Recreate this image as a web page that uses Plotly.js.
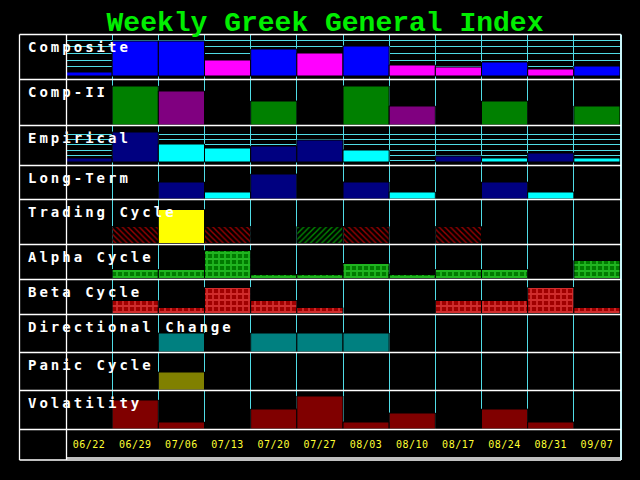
<!DOCTYPE html>
<html><head><meta charset="utf-8">
<script src="https://cdn.plot.ly/plotly-3.0.1.min.js"></script>
<style>
html,body{margin:0;padding:0;background:#000;}
#chart{width:640px;height:480px;}
.annotation-text{letter-spacing:3.0px;}
.xtick text{letter-spacing:0.5px;}
</style></head><body><div id="chart"></div>
<script>
// ---- data ----
const weeks = ['06/22','06/29','07/06','07/13','07/20','07/27','08/03','08/10','08/17','08/24','08/31','09/07'];
const rowLabels = ['Composite','Comp-II','Empirical','Long-Term','Trading Cycle','Alpha Cycle','Beta Cycle','Directional Change','Panic Cycle','Volatility'];

const compositeVal = [4, 35, 35, 16, 27, 23, 30, 11, 9, 14, 7, 10];
const compositeSig = ['B','B','B','M','B','M','B','M','M','B','M','B'];
const comp2Val = [null, 39, 34, null, 24, null, 39, 19, null, 24, null, 19];
const comp2Sig = ['', 'G','P','','G','','G','P','','G','','G'];
const empiricalVal = [4, 30, 18, 14, 16, 22, 12, null, 6, 4, 9, 4];
const empiricalSig = ['N','N','C','C','N','N','C','','N','C','N','C'];
const longTermVal = [null, null, 17, 7, 25, null, 17, 7, null, 17, 7, null];
const longTermSig = ['','','N','C','N','','N','C','','N','C',''];
const tradingVal = [null, 17, 34, 17, null, 17, 17, null, 17, null, null, null];
const tradingSig = ['','R','Y','R','','G','R','','R','','',''];
const alphaVal = [null, 9, 9, 28, 4, 4, 15, 4, 9, 9, null, 18];
const betaVal = [null, 13, 6, 26, 13, 6, null, null, 13, 13, 26, 6];
const directionalVal = [null, null, 19, null, 19, 19, 19, null, null, null, null, null];
const panicVal = [null, null, 18, null, null, null, null, null, null, null, null, null];
const volatilityVal = [null, 29, 7, null, 20, 33, 7, 16, null, 20, 7, null];

// ---- styling ----
const palette = {B:'#0000ff', M:'#ff00ff', G:'#008000', P:'#800080', N:'#000080', C:'#00ffff', R:'#900000', Y:'#ffff00', '':'#000'};
const tradingColor = {R:'#9a0000', Y:'#ffff00', G:'#008a00', '':'#000'};
const tradingShape = {R:'\\', Y:'', G:'/', '':''};
const CYAN = '#50dce6';
const W = 640, H = 480;
const X = p => p / W, Y = p => 1 - p / H;

// row geometry in pixels: [top, bottom], y range, grid lines
const rowGeom = [
  {t:34,  b:79,  r:[-3, 42],  g:[9.7, 16, 22.7, 29.5, 35.5]},
  {t:79,  b:125, r:[0, 46]},
  {t:125, b:165, r:[-3, 37],  g:[1.3, 7, 12, 17.7, 22.7, 27.7]},
  {t:165, b:199, r:[0, 34]},
  {t:199, b:244, r:[-0.5, 44.5]},
  {t:244, b:279, r:[-0.5, 34.5]},
  {t:279, b:314, r:[-0.5, 34.5]},
  {t:314, b:352, r:[0, 38]},
  {t:352, b:390, r:[0, 38]},
  {t:390, b:429, r:[0, 39]},
  {t:429, b:458, r:[0, 1]}
];

function bar(vals, colors, n, extraMarker) {
  return {
    type:'bar', x:weeks, y:vals, xaxis:'x', yaxis: n === 1 ? 'y' : 'y' + n,
    marker: Object.assign({color:colors, line:{color:'#000', width:1}}, extraMarker || {}),
    hoverinfo:'skip', showlegend:false
  };
}

const traces = [
  bar(compositeVal, compositeSig.map(s => palette[s]), 1),
  bar(comp2Val, comp2Sig.map(s => palette[s]), 2),
  bar(empiricalVal, empiricalSig.map(s => palette[s]), 3),
  bar(longTermVal, longTermSig.map(s => palette[s]), 4),
  bar(tradingVal, tradingSig.map(s => tradingColor[s]), 5,
      {pattern:{shape: tradingSig.map(s => tradingShape[s]), fillmode:'replace', size:4, solidity:0.35}}),
  bar(alphaVal, '#007a00', 6, {pattern:{shape:'+', fgcolor:'#40f040', fillmode:'overlay', size:6, solidity:0.5}}),
  bar(betaVal, '#a00000', 7, {pattern:{shape:'+', fgcolor:'#ff5a5a', fillmode:'overlay', size:6, solidity:0.5}}),
  bar(directionalVal, '#008080', 8),
  bar(panicVal, '#808000', 9),
  bar(volatilityVal, '#800000', 10)
];

const layout = {
  width: W, height: H, autosize:false,
  margin:{l:0, r:0, t:0, b:0, pad:0},
  paper_bgcolor:'#000', plot_bgcolor:'#000',
  barmode:'overlay', bargap:0,
  title:{text:'Weekly Greek General Index', x:325/W, xanchor:'center', xref:'paper',
         y:Y(21), yanchor:'middle', yref:'container',
         font:{family:'Liberation Mono', size:28, color:'#00ee00', weight:'bold'}},
  xaxis:{type:'category', categoryorder:'array', categoryarray:weeks,
         domain:[X(66), X(620)], range:[-0.5, 11.5], anchor:'free', position:Y(437),
         tickson:'boundaries', showgrid:true, gridcolor:CYAN, gridwidth:1,
         ticks:'', showline:false, zeroline:false, fixedrange:true,
         tickfont:{family:'DejaVu Sans Mono', size:10, color:'#ffff33'}},
  shapes:[], annotations:[]
};

rowGeom.forEach((g, i) => {
  const key = i === 0 ? 'yaxis' : 'yaxis' + (i + 1);
  layout[key] = {
    domain:[Y(g.b), Y(g.t)], range:g.r, anchor:'x',
    showticklabels:false, ticks:'', zeroline:false, showline:false, fixedrange:true,
    showgrid: !!g.g, gridcolor:CYAN, gridwidth:1,
    tickmode:'array', tickvals: g.g || []
  };
});

// frame lines
const white = {color:'#ffffff', width:1.3};
const ln = (x0, y0, x1, y1, line) => ({type:'line', xref:'paper', yref:'paper', x0:X(x0), y0:Y(y0), x1:X(x1), y1:Y(y1), line, layer:'above'});
layout.shapes.push(ln(19.5, 34.5, 621, 34.5, white));
layout.shapes.push(ln(19.5, 460, 621, 460, white));
layout.shapes.push(ln(19.5, 34.5, 19.5, 460, white));
layout.shapes.push(ln(66.5, 34.5, 66.5, 460, white));
layout.shapes.push(ln(66.5, 458, 621, 458, white));
layout.shapes.push(ln(621, 34.5, 621, 460, {color:'#c8f4f8', width:2}));
rowGeom.slice(0, 10).forEach(g => layout.shapes.push(ln(19.5, g.b + 0.5, 621, g.b + 0.5, white)));

// row labels
rowLabels.forEach((txt, i) => {
  layout.annotations.push({
    text: txt, xref:'paper', yref:'paper', x:X(26), y:Y(rowGeom[i].t + 3),
    xanchor:'left', yanchor:'top', showarrow:false, align:'left',
    font:{family:'DejaVu Sans Mono', size:14, color:'#ffffff', weight:'bold'}
  });
});

Plotly.newPlot('chart', traces, layout, {staticPlot:true, displayModeBar:false});
</script></body></html>
